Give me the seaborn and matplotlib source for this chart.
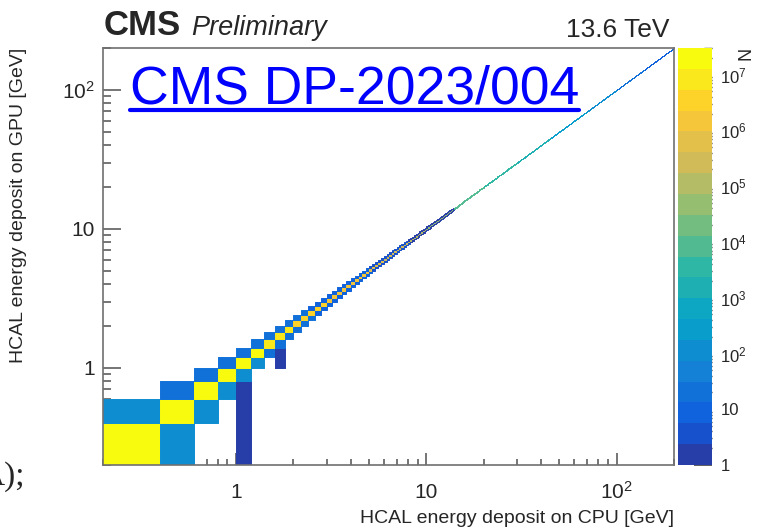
import numpy as np
import pandas as pd
import matplotlib
matplotlib.use("Agg")
import matplotlib.pyplot as plt
from matplotlib.colors import LinearSegmentedColormap, ListedColormap, LogNorm
from matplotlib.lines import Line2D
from matplotlib.ticker import FixedLocator, FixedFormatter, LogLocator, NullFormatter
import seaborn as sns

# ---- histogram binning [GeV] ----
bin_width = 0.2
e_min, e_max = 0.2, 200.0

# ---- counts per 0.2 GeV cell; each value holds from its start edge to the next ----
seg_start = [0.2, 0.4, 0.6, 0.8, 1.0, 1.2, 1.4, 1.6, 1.8, 2.0, 2.4, 3.0, 4.0,
             5.0, 6.0, 8.0, 10.0, 14.0, 20.0, 30.0, 45.0, 70.0, 100.0, 140.0]
# CPU bin == GPU bin
diag_counts = [2.5e7, 2.3e7, 2.1e7, 1.9e7, 1.7e7, 1.4e7, 8e6, 6.5e6, 6e6, 4e6,
               3e6, 2e6, 1.3e6, 8e5, 4e5, 1.5e5, 5e4, 1e4, 3e3, 1.2e3, 400, 100, 30, 12]
# GPU one bin above CPU (indexed by the CPU bin)
gpu_high_counts = [120, 30, 30, 30, 30, 30, 25, 25, 25, 20, 12, 12, 12,
                   4, 4, 1.5, 1.5, 0, 0, 0, 0, 0, 0, 0]
# CPU one bin above GPU (indexed by the GPU bin)
cpu_high_counts = [120, 120, 120, 80, 120, 30, 25, 25, 25, 20, 12, 12, 12,
                   4, 4, 1.5, 1.5, 0, 0, 0, 0, 0, 0, 0]

# isolated cells away from the diagonal
extra_cpu = [1.1, 1.1, 1.1, 1.7, 1.7]
extra_gpu = [0.3, 0.5, 0.7, 1.1, 1.3]
extra_counts = [2, 2, 2, 2, 2]

# ---- axis ticks ----
e_ticks = [1, 10, 100]
e_tick_labels = ["1", "10", "$10^2$"]
z_ticks = [1, 10, 1e2, 1e3, 1e4, 1e5, 1e6, 1e7]
z_tick_labels = ["1", "10", "$10^2$", "$10^3$", "$10^4$", "$10^5$", "$10^6$", "$10^7$"]
z_min, z_max = 1, 3e7

# ---- build the cell table ----
lows = np.round(np.arange(1, 1000) * bin_width, 6)
seg = np.searchsorted(seg_start, lows + 1e-9, side="right") - 1
half = bin_width / 2
cells = [
    pd.DataFrame({"cpu": lows + half, "gpu": lows + half,
                  "n": np.asarray(diag_counts)[seg]}),
    pd.DataFrame({"cpu": lows[:-1] + half, "gpu": lows[:-1] + 3 * half,
                  "n": np.asarray(gpu_high_counts)[seg[:-1]]}),
    pd.DataFrame({"cpu": lows[:-1] + 3 * half, "gpu": lows[:-1] + half,
                  "n": np.asarray(cpu_high_counts)[seg[:-1]]}),
    pd.DataFrame({"cpu": extra_cpu, "gpu": extra_gpu, "n": extra_counts}),
]
df = pd.concat(cells, ignore_index=True)
df = df[df["n"] > 0]
edges = [float(np.log10(round(k * bin_width, 6))) for k in range(1, 1001)]

# ---- ROOT "bird" palette with 20 contour colours ----
bird_stops = [0.0, 0.125, 0.25, 0.375, 0.5, 0.625, 0.75, 0.875, 1.0]
bird_r = [0.2082, 0.0592, 0.0780, 0.0232, 0.1802, 0.5301, 0.8186, 0.9956, 0.9764]
bird_g = [0.1664, 0.3599, 0.5041, 0.6419, 0.7178, 0.7492, 0.7328, 0.7862, 0.9832]
bird_b = [0.5293, 0.8684, 0.8385, 0.7914, 0.6425, 0.4662, 0.3499, 0.1968, 0.0539]
bird = LinearSegmentedColormap.from_list(
    "bird", list(zip(bird_stops, zip(bird_r, bird_g, bird_b))), N=255)
n_cont = 20
bird20 = ListedColormap(
    bird(np.array([int((i + 0.99) * 255 / n_cont) for i in range(n_cont)])))

# ---- style ----
sns.set_style("ticks")
plt.rcParams["font.family"] = ["Liberation Sans", "DejaVu Sans"]
plt.rcParams["mathtext.fontset"] = "custom"
plt.rcParams["mathtext.rm"] = "Liberation Sans"
plt.rcParams["mathtext.it"] = "Liberation Sans:italic"
plt.rcParams["mathtext.bf"] = "Liberation Sans:bold"

W, H = 760, 532
fig = plt.figure(figsize=(W / 100, H / 100), dpi=100)
ax = fig.add_axes([103 / W, 1 - 465 / H, 571 / W, 417 / H])
cax = fig.add_axes([678 / W, 1 - 465 / H, 34 / W, 417 / H])

sns.histplot(data=df, x="cpu", y="gpu", weights="n", bins=edges,
             log_scale=True, cmap=bird20, cbar=False, ax=ax,
             edgecolor="face", linewidth=0.7, antialiased=True)
mesh = ax.collections[0]
mesh.set_norm(LogNorm(vmin=z_min, vmax=z_max))

ax.set_xlim(e_min, e_max)
ax.set_ylim(e_min, e_max)
frame_col = "#707070"
for s in ax.spines.values():
    s.set_color(frame_col)
    s.set_linewidth(1.2)
    s.set_visible(True)

for axis in (ax.xaxis, ax.yaxis):
    axis.set_major_locator(FixedLocator(e_ticks))
    axis.set_major_formatter(FixedFormatter(e_tick_labels))
    axis.set_minor_locator(LogLocator(base=10, subs=np.arange(2, 10)))
    axis.set_minor_formatter(NullFormatter())

ax.tick_params(axis="x", which="major", direction="in", length=9, width=1.1,
               color="#505050", labelsize=15, pad=24, top=False)
ax.tick_params(axis="x", which="minor", direction="in", length=4.5, width=1.1,
               color="#505050", top=False)
ax.tick_params(axis="y", which="major", direction="in", length=13, width=1.1,
               color="#505050", labelsize=15, pad=6, right=False)
ax.tick_params(axis="y", which="minor", direction="in", length=6, width=1.1,
               color="#505050", right=False)
for lbl in ax.get_xticklabels():
    lbl.set_verticalalignment("baseline")

ax.set_xlabel("HCAL energy deposit on CPU [GeV]", fontsize=14, loc="right")
ax.set_ylabel("HCAL energy deposit on GPU [GeV]", fontsize=14, loc="top")
ax.xaxis.set_label_coords(1.0, -(510 - 465) / 417)
ax.yaxis.set_label_coords(-(103 - 27) / 571, 1.0)
ax.grid(False)

# ---- colour scale ----
cbar = fig.colorbar(mesh, cax=cax)
cbar.outline.set_visible(False)
cax.yaxis.set_major_locator(FixedLocator(z_ticks))
cax.yaxis.set_major_formatter(FixedFormatter(z_tick_labels))
cax.yaxis.set_minor_locator(LogLocator(base=10, subs=np.arange(2, 10)))
cax.yaxis.set_minor_formatter(NullFormatter())
cax.tick_params(axis="y", which="major", direction="in", length=13, width=1.1,
                color="#303030", labelsize=12, pad=6, right=True, left=False)
cax.tick_params(axis="y", which="minor", direction="in", length=6, width=1.0,
                color="#303030", right=True, left=False)

# ---- header and annotations ----
fig.text(104 / W, 1 - 35 / H, "CMS", fontsize=25, fontweight="bold", va="baseline")
fig.text(191 / W, 1 - 35 / H, "Preliminary", fontsize=19.5, fontstyle="italic", va="baseline")
fig.text(670 / W, 1 - 37 / H, "13.6 TeV", fontsize=19, ha="right", va="baseline")
link = fig.text(130 / W, 1 - 103 / H, "CMS DP-2023/004", fontsize=38.5,
                color="#0000ff", va="baseline")
fig.text(754 / W, 1 - 47 / H, "N", fontsize=13, rotation=90, ha="right", va="top")
fig.text(25 / W, 1 - 485 / H, "A);", fontsize=24, ha="right", va="baseline",
         family=["Liberation Serif", "DejaVu Serif"])

fig.canvas.draw()
bb = link.get_window_extent()
uy = 1 - 109.5 / H
fig.add_artist(Line2D([bb.x0 / W, bb.x1 / W], [uy, uy], color="#0000ff",
                      linewidth=3.0, transform=fig.transFigure))

fig.savefig("out.png", dpi=100)
